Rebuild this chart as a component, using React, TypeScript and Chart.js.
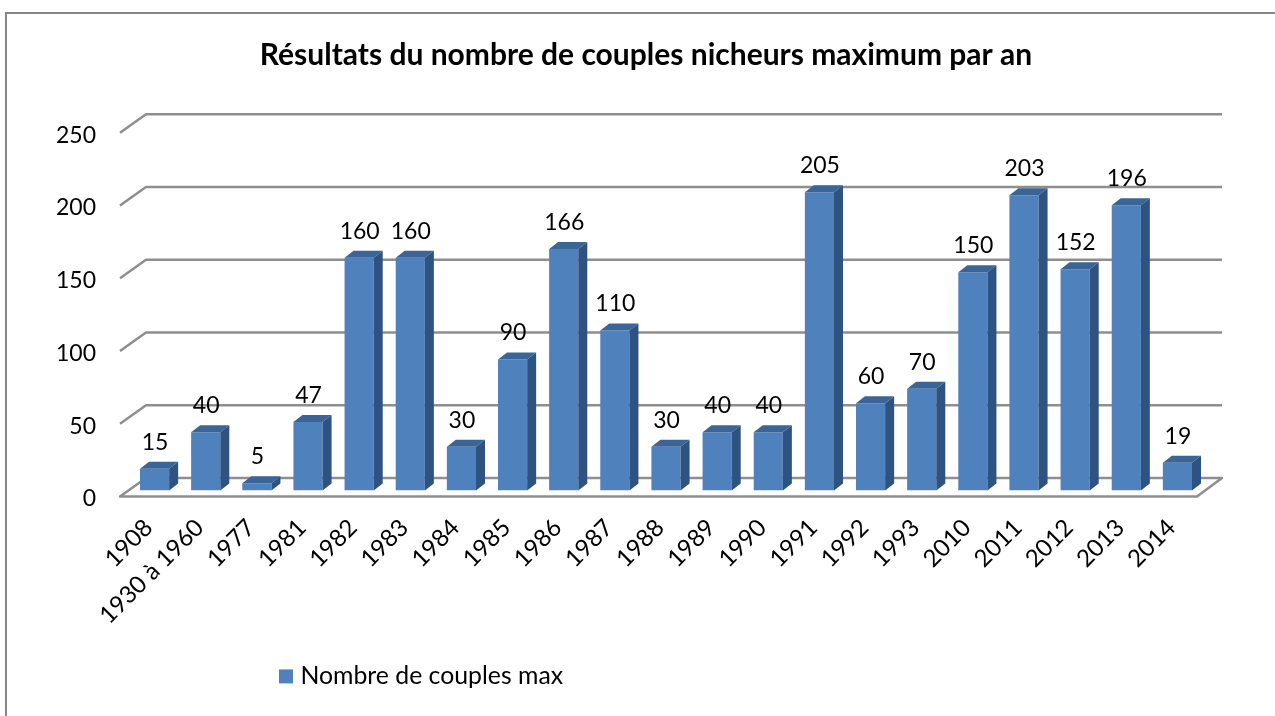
import React, { useEffect, useRef } from "react";
import { Chart, registerables } from "chart.js";

Chart.register(...registerables);

const categories = ["1908","1930 à 1960","1977","1981","1982","1983","1984","1985","1986","1987","1988","1989","1990","1991","1992","1993","2010","2011","2012","2013","2014"];
const couples = [15,40,5,47,160,160,30,90,166,110,30,40,40,205,60,70,150,203,152,196,19];
const seriesName = "Nombre de couples max";
const titleText = "Résultats du nombre de couples nicheurs maximum par an";
const yTicks = [0,50,100,150,200,250];

const FONT = "Lato, Carlito, Calibri, sans-serif";
const GRID = "#8e8e8e";
const FRONT = "#4F81BD";
const TOP = "#3B6596";
const SIDE = "#2F5380";

const threeD = {
  id: "threeD",
  afterLayout(chart: any) {
    const t = chart.titleBlock;
    t.left = 0; t.right = 1292; t.top = 21; t.bottom = 76;
    const l = chart.legend;
    l.left = 274; l.right = 700; l.top = 654; l.bottom = 688;
  },
  beforeDraw(chart: any) {
    const c = chart.ctx;
    c.save();
    c.fillStyle = "#fff";
    c.fillRect(0, 0, chart.width, chart.height);
    c.strokeStyle = "#868686";
    c.lineWidth = 2;
    c.strokeRect(6, 13, 2000, 2000);
    c.restore();
  },
  beforeDatasetsDraw(chart: any) {
    const c = chart.ctx;
    const y = chart.scales.y;
    const area = chart.chartArea;
    const fx0 = area.left - 9, fx1 = area.right - 6;
    const bx0 = fx0 + 26, bx1 = fx1 + 25;
    c.save();
    c.strokeStyle = GRID;
    c.lineWidth = 2.5;
    c.lineJoin = "round";
    yTicks.forEach((v) => {
      const p = y.getPixelForValue(v);
      c.beginPath();
      c.moveTo(fx0, p + 6);
      c.lineTo(bx0, p - 12.5);
      c.lineTo(bx1, p - 12.5);
      if (v === 0) {
        c.lineTo(fx1, p + 6);
        c.closePath();
      }
      c.stroke();
    });
    c.restore();
  },
  afterDatasetsDraw(chart: any) {
    const c = chart.ctx;
    const meta = chart.getDatasetMeta(0);
    const dx = 9, dy = 7;
    c.save();
    meta.data.forEach((el: any, i: number) => {
      const x1 = el.x + el.width / 2, x0 = el.x - el.width / 2;
      c.fillStyle = TOP;
      c.beginPath();
      c.moveTo(x0, el.y); c.lineTo(x0 + dx, el.y - dy); c.lineTo(x1 + dx, el.y - dy); c.lineTo(x1, el.y);
      c.closePath(); c.fill();
      c.fillStyle = SIDE;
      c.beginPath();
      c.moveTo(x1, el.y); c.lineTo(x1 + dx, el.y - dy); c.lineTo(x1 + dx, el.base - dy); c.lineTo(x1, el.base);
      c.closePath(); c.fill();
      c.fillStyle = "#000";
      c.font = `23px ${FONT}`;
      c.textAlign = "center";
      c.textBaseline = "middle";
      c.fillText(String(couples[i]), el.x + 0.5, el.y - 26.5);
    });
    c.restore();
  },
};

export default function App() {
  const ref = useRef<HTMLCanvasElement>(null);
  useEffect(() => {
    const chart = new Chart(ref.current as HTMLCanvasElement, {
      type: "bar",
      data: {
        labels: categories,
        datasets: [{
          label: seriesName,
          data: couples,
          backgroundColor: FRONT,
          borderWidth: 0,
          categoryPercentage: 1,
          barPercentage: 0.57,
        }],
      },
      options: {
        responsive: false,
        animation: false,
        layout: { padding: { left: 0, right: 72, top: 0, bottom: 0 } },
        plugins: {
          title: {
            display: true,
            text: titleText,
            color: "#000",
            font: { family: FONT, size: 30, weight: "bold" },
            padding: { top: 16, bottom: 74.75 },
          },
          legend: {
            display: true,
            position: "bottom",
            align: "start",
            labels: {
              color: "#000",
              font: { family: FONT, size: 24.8 },
              usePointStyle: true,
              pointStyle: "rect",
              boxWidth: 4,
              boxHeight: 14,
              padding: 10,
            },
          },
          tooltip: { enabled: false },
        },
        scales: {
          x: {
            grid: { display: false },
            border: { display: false },
            afterFit: (s: any) => { s.height = 716 - 490.5 - s.chart.legend.height; },
            ticks: {
              autoSkip: false,
              maxRotation: 45,
              minRotation: 45,
              color: "#000",
              padding: 15,
              labelOffset: -6,
              font: { family: FONT, size: 24 },
            },
          },
          y: {
            min: 0,
            max: 250,
            grid: { display: false },
            border: { display: false },
            afterFit: (s: any) => { s.width = 129; },
            ticks: {
              stepSize: 50,
              color: "#000",
              padding: 25,
              labelOffset: 8.5,
              font: { family: FONT, size: 23 },
            },
          },
        },
      },
      plugins: [threeD],
    } as any);
    return () => chart.destroy();
  }, []);
  return (
    <div style={{ position: "fixed", left: 0, top: 0, width: 1275, height: 716, overflow: "hidden" }}>
      <canvas ref={ref} width={1275} height={716} style={{ display: "block" }} />
    </div>
  );
}
